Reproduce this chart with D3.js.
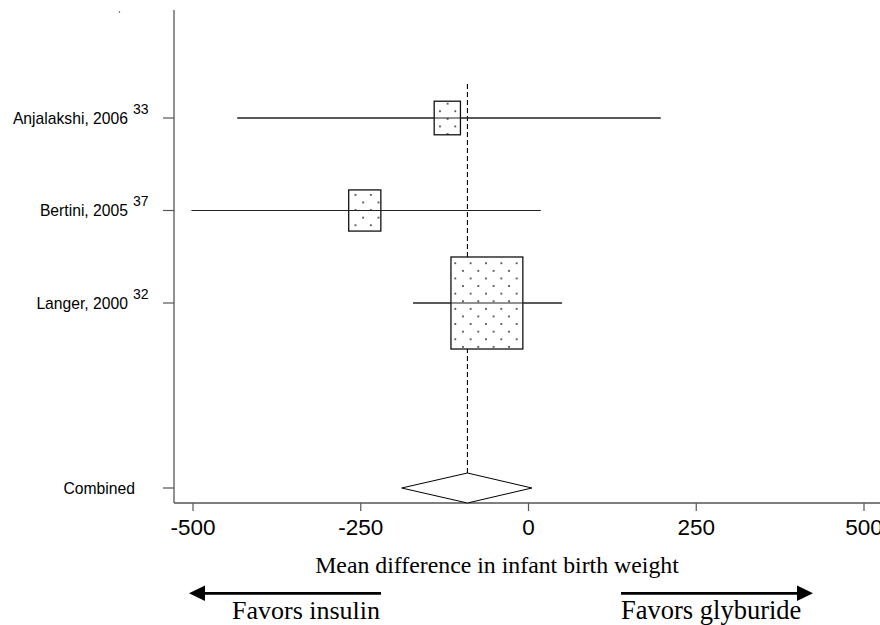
<!DOCTYPE html>
<html lang="en">
<head>
<meta charset="UTF-8">
<title>Forest plot</title>
<script src="https://cdnjs.cloudflare.com/ajax/libs/d3/7.8.5/d3.min.js"></script>
<style>
  body { margin: 0; background: #fff; }
  svg { display: block; }
  .study { font-family: "Liberation Sans", Arial, sans-serif; font-size: 15.7px; fill: #000; }
  .sup { font-size: 14px; }
  .tick-label { font-family: "Liberation Sans", Arial, sans-serif; font-size: 22.5px; fill: #000; }
  .serif { font-family: "Liberation Serif", "Times New Roman", serif; fill: #000; }
</style>
</head>
<body>
<svg id="chart" width="880" height="625"></svg>
<script>
// study data (mean difference in grams)
const studies = ["Anjalakshi, 2006", "Bertini, 2005", "Langer, 2000"];
const refs = ["33", "37", "32"];
const estimates = [-121, -244, -62];
const lower = [-434, -502, -172];
const upper = [197, 18, 50];
const weights = [10, 15, 75];
const rows = [1, 2, 3];

const combinedLabel = "Combined";
const combinedRow = 5;
const combined = { est: -91, lo: -189, hi: 5 };

const xTicks = [-500, -250, 0, 250, 500];

const svg = d3.select("#chart");

const x = d3.scaleLinear().domain([-500, 500]).range([193, 864]);
const y = d3.scaleLinear().domain([1, 5]).range([118, 488]);

const axisX = 174, axisY = 503;

// dotted fill for boxes
const defs = svg.append("defs");
const pat = defs.append("pattern")
    .attr("id", "dots")
    .attr("patternUnits", "userSpaceOnUse")
    .attr("x", 454.3).attr("y", 262.3)
    .attr("width", 15.35).attr("height", 15.2);
pat.append("rect").attr("width", 15.35).attr("height", 15.2).attr("fill", "#fff");
pat.append("circle").attr("cx", 1).attr("cy", 1).attr("r", 1).attr("fill", "#333");
pat.append("circle").attr("cx", 8.65).attr("cy", 8.6).attr("r", 1).attr("fill", "#333");

// tiny mark top-left
svg.append("circle").attr("cx", 119.5).attr("cy", 12).attr("r", 0.7).attr("fill", "#333");

// axes
svg.append("line")
    .attr("x1", axisX).attr("x2", axisX)
    .attr("y1", 10).attr("y2", axisY)
    .attr("stroke", "#555").attr("stroke-width", 1.3);
svg.append("line")
    .attr("x1", axisX).attr("x2", 880)
    .attr("y1", axisY).attr("y2", axisY)
    .attr("stroke", "#555").attr("stroke-width", 1.3);

const xt = svg.append("g");
xt.selectAll("line").data(xTicks).enter().append("line")
    .attr("x1", d => x(d)).attr("x2", d => x(d))
    .attr("y1", axisY).attr("y2", axisY + 8)
    .attr("stroke", "#555").attr("stroke-width", 1.2);
xt.selectAll("text").data(xTicks).enter().append("text")
    .attr("class", "tick-label")
    .attr("x", d => x(d)).attr("y", 535)
    .attr("text-anchor", "middle")
    .text(d => d);

// y ticks
const allRows = rows.concat([combinedRow]);
svg.selectAll(".ytick").data(allRows).enter().append("line")
    .attr("x1", 163).attr("x2", axisX)
    .attr("y1", d => y(d)).attr("y2", d => y(d))
    .attr("stroke", "#555").attr("stroke-width", 1.2);

// study labels
studies.forEach((s, i) => {
    svg.append("text")
        .attr("class", "study")
        .attr("x", 128).attr("y", y(rows[i]) + 5.5)
        .attr("text-anchor", "end")
        .text(s);
    svg.append("text")
        .attr("class", "study sup")
        .attr("x", 133).attr("y", y(rows[i]) - 4.5)
        .text(refs[i]);
});
svg.append("text")
    .attr("class", "study")
    .attr("x", 135).attr("y", y(combinedRow) + 5.5)
    .attr("text-anchor", "end")
    .text(combinedLabel);

// reference line at combined estimate
svg.append("line")
    .attr("x1", x(combined.est)).attr("x2", x(combined.est))
    .attr("y1", 84).attr("y2", y(combinedRow) - 15)
    .attr("stroke", "#000").attr("stroke-width", 1.1)
    .attr("stroke-dasharray", "5,3");

// confidence intervals
svg.selectAll(".ci").data(studies).enter().append("line")
    .attr("x1", (d, i) => x(lower[i])).attr("x2", (d, i) => x(upper[i]))
    .attr("y1", (d, i) => y(rows[i])).attr("y2", (d, i) => y(rows[i]))
    .attr("stroke", "#222").attr("stroke-width", 1);

// weight boxes
const boxW = w => 8.3 * Math.sqrt(w);
svg.selectAll(".box").data(studies).enter().append("rect")
    .attr("x", (d, i) => x(estimates[i]) - boxW(weights[i]) / 2)
    .attr("y", (d, i) => y(rows[i]) - boxW(weights[i]) * 1.28 / 2)
    .attr("width", (d, i) => boxW(weights[i]))
    .attr("height", (d, i) => boxW(weights[i]) * 1.28)
    .attr("fill", "url(#dots)")
    .attr("stroke", "#111").attr("stroke-width", 1.3);

// redraw CI over boxes
svg.selectAll(".ci2").data(studies).enter().append("line")
    .attr("x1", (d, i) => x(lower[i])).attr("x2", (d, i) => x(upper[i]))
    .attr("y1", (d, i) => y(rows[i])).attr("y2", (d, i) => y(rows[i]))
    .attr("stroke", "#222").attr("stroke-width", 1);

// combined diamond
const cy = y(combinedRow);
svg.append("path")
    .attr("d", `M${x(combined.lo)},${cy} L${x(combined.est)},${cy - 15} L${x(combined.hi)},${cy} L${x(combined.est)},${axisY} Z`)
    .attr("fill", "#fff").attr("stroke", "#000").attr("stroke-width", 1);

// axis title
svg.append("text")
    .attr("class", "serif")
    .attr("x", 497).attr("y", 573)
    .attr("text-anchor", "middle")
    .style("font-size", "23.8px")
    .text("Mean difference in infant birth weight");

// arrows
svg.append("line").attr("x1", 200).attr("x2", 381).attr("y1", 593.3).attr("y2", 593.3)
    .attr("stroke", "#000").attr("stroke-width", 2.7);
svg.append("path").attr("d", "M189,593.3 L205,585.5 L205,601 Z").attr("fill", "#000");
svg.append("line").attr("x1", 621).attr("x2", 800).attr("y1", 593.3).attr("y2", 593.3)
    .attr("stroke", "#000").attr("stroke-width", 2.7);
svg.append("path").attr("d", "M813,593.3 L797,585.5 L797,601 Z").attr("fill", "#000");

svg.append("text").attr("class", "serif")
    .attr("x", 232).attr("y", 619)
    .style("font-size", "26px")
    .text("Favors insulin");
svg.append("text").attr("class", "serif")
    .attr("x", 621).attr("y", 619)
    .style("font-size", "26.5px")
    .text("Favors glyburide");
</script>
</body>
</html>
